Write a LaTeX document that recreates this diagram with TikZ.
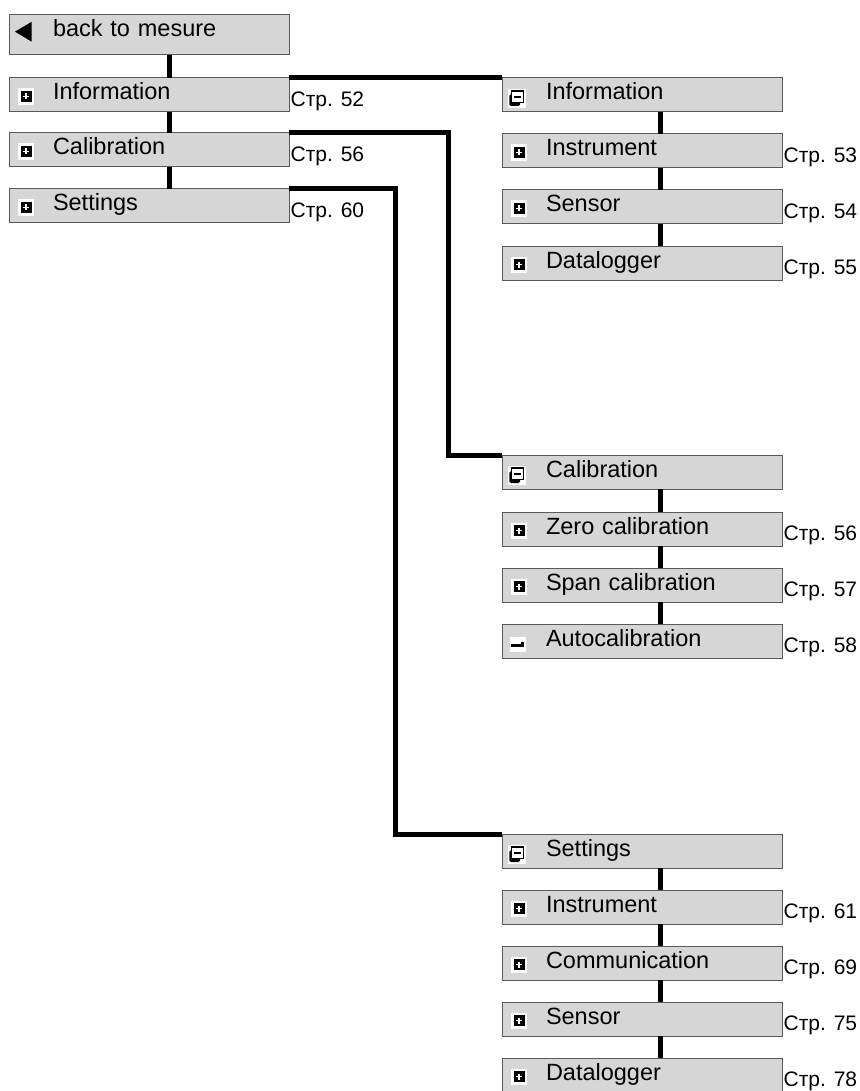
\documentclass[tikz,border=0pt]{standalone}
\usepackage{fontspec}
\setmainfont{Liberation Sans}
\usepackage{tikz}
\usetikzlibrary{calc}
%% point inside a box, measured from its top left corner (y runs down)
\newcommand{\icpt}[2]{([shift={(#1pt,-#2pt)}]path picture bounding box.north west)}
\tikzset{
  mnItem/.style={draw=black!65, fill=black!16, line width=1pt, anchor=north west,
    outer sep=0pt, inner xsep=44pt, inner ysep=0pt, text width=192pt, align=left,
    text height=22pt, text depth=12pt, font=\fontsize{23.5}{28}\selectfont},
  %% Box icons
  mnBack/.style={mnItem, text depth=18pt, path picture={
      \fill[black] \icpt{6}{16.7} -- \icpt{22.7}{6.7} -- \icpt{22.7}{26.7} -- cycle;}},
  mnPlus/.style={mnItem, path picture={
      \fill[white] \icpt{9}{10.5} rectangle \icpt{25}{27};
      \fill[black] \icpt{11.5}{13} rectangle \icpt{22.5}{24};
      \draw[white, line width=1.6pt] \icpt{14}{18.5} -- \icpt{20}{18.5}
        \icpt{17}{15.5} -- \icpt{17}{21.5};}},
  mnOpen/.style={mnItem, path picture={
      \fill[white] \icpt{6}{11} rectangle \icpt{23.5}{30};
      \fill[black, rounded corners=1.5pt] \icpt{7.3}{16.3} rectangle \icpt{18}{28};
      \filldraw[fill=white, draw=black, line width=1.5pt] \icpt{9.7}{13} rectangle \icpt{21.3}{24.7};
      \draw[black, line width=2pt] \icpt{12.3}{19} -- \icpt{18.7}{19};}},
  mnAuto/.style={mnItem, path picture={
      \fill[white] \icpt{8}{13} rectangle \icpt{24}{28};
      \fill[black] \icpt{9}{19.5} rectangle \icpt{21}{23};
      \fill[black] \icpt{18.5}{18} rectangle \icpt{21.5}{23};}},
  %% Page references
  mnPage/.style={anchor=base west, inner sep=1.5pt, yshift=5.5pt,
    font=\fontsize{21}{25}\selectfont},
  %% Connectors
  mnLink/.style={line width=5pt, line join=miter},
}

\begin{document}
\begin{tikzpicture}[x=1pt, y=-1pt]
\useasboundingbox (0,0) rectangle (859,1091);

%% Main menu
\node[mnBack] (back) at (9,15)  {back to mesure};
\node[mnPlus] (info) at (9,78)  {Information};
\node[mnPlus] (cal)  at (9,133) {Calibration};
\node[mnPlus] (set)  at (9,189) {Settings};

\node[mnPage] (infoPg) at (info.south east) {Стр. 52};
\node[mnPage] (calPg)  at (cal.south east)  {Стр. 56};
\node[mnPage] (setPg)  at (set.south east)  {Стр. 60};

%% Information submenu
\node[mnOpen] (infoR)  at (502,78)  {Information};
\node[mnPlus] (infoIn) at (502,134) {Instrument};
\node[mnPlus] (infoSe) at (502,190) {Sensor};
\node[mnPlus] (infoDl) at (502,246) {Datalogger};

\node[mnPage] (infoInPg) at (infoIn.south east) {Стр. 53};
\node[mnPage] (infoSePg) at (infoSe.south east) {Стр. 54};
\node[mnPage] (infoDlPg) at (infoDl.south east) {Стр. 55};

%% Calibration submenu
\node[mnOpen] (calR)  at (502,455) {Calibration};
\node[mnPlus] (calZe) at (502,512) {Zero calibration};
\node[mnPlus] (calSp) at (502,568) {Span calibration};
\node[mnAuto] (calAu) at (502,624) {Autocalibration};

\node[mnPage] (calZePg) at (calZe.south east) {Стр. 56};
\node[mnPage] (calSpPg) at (calSp.south east) {Стр. 57};
\node[mnPage] (calAuPg) at (calAu.south east) {Стр. 58};

%% Settings submenu
\node[mnOpen] (setR)  at (502,834)  {Settings};
\node[mnPlus] (setIn) at (502,890)  {Instrument};
\node[mnPlus] (setCo) at (502,946)  {Communication};
\node[mnPlus] (setSe) at (502,1002) {Sensor};
\node[mnPlus] (setDl) at (502,1058) {Datalogger};

\node[mnPage] (setInPg) at (setIn.south east) {Стр. 61};
\node[mnPage] (setCoPg) at (setCo.south east) {Стр. 69};
\node[mnPage] (setSePg) at (setSe.south east) {Стр. 75};
\node[mnPage] (setDlPg) at (setDl.south east) {Стр. 78};

%% Column links
\foreach \a/\b in {back/info, info/cal, cal/set}
  \draw[mnLink] ([xshift=160pt]\a.south west) -- ([xshift=160pt]\b.north west);
\foreach \a/\b in {infoR/infoIn, infoIn/infoSe, infoSe/infoDl,
                   calR/calZe, calZe/calSp, calSp/calAu,
                   setR/setIn, setIn/setCo, setCo/setSe, setSe/setDl}
  \draw[mnLink] ([xshift=158pt]\a.south west) -- ([xshift=158pt]\b.north west);

%% Branches to submenus
\draw[mnLink] (info.north east) -- (infoR.north west);
\draw[mnLink] (cal.north east) -- ++(159,0) |- (calR.north west);
\draw[mnLink] (set.north east) -- ++(106,0) |- (setR.north west);

\end{tikzpicture}
\end{document}
